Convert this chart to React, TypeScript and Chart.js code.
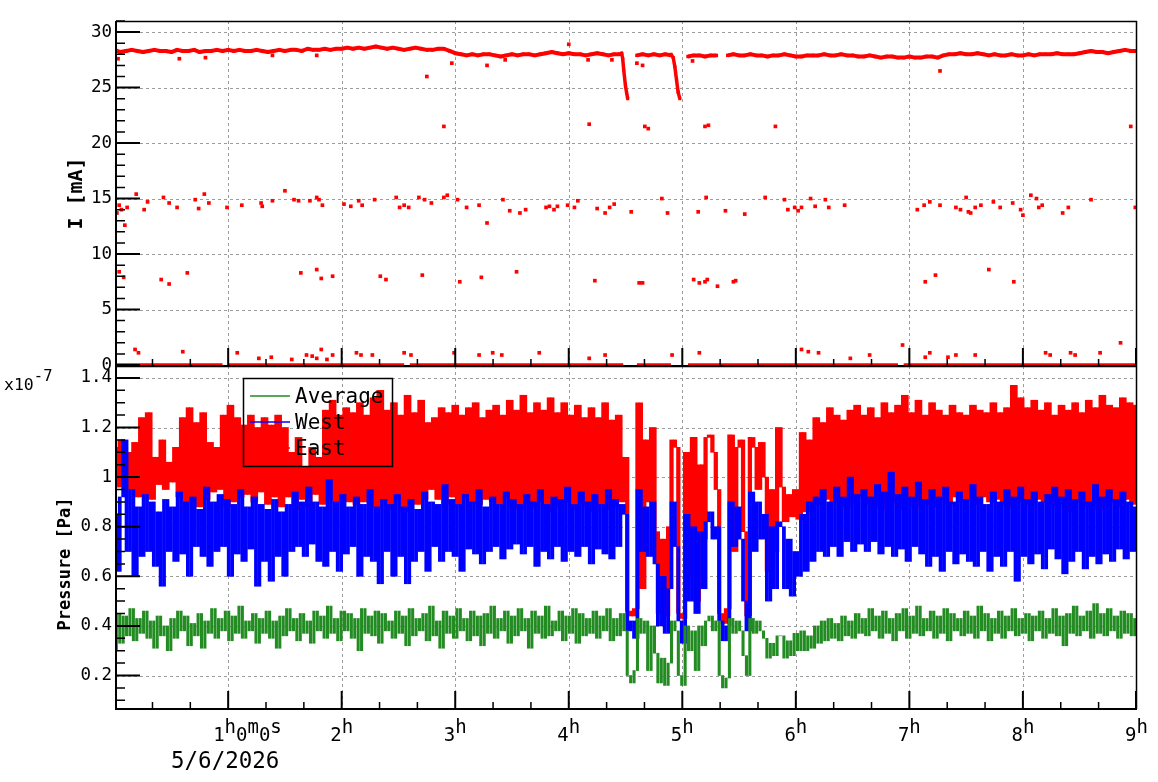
import React, { useEffect, useRef } from 'react';
import { Chart, registerables } from 'chart.js';

Chart.register(...registerables);

const W = 1158;
const H = 782;
const MONO = "'DejaVu Sans Mono', 'Liberation Mono', monospace";
const RED = '#ff0000';
const BLUE = '#0000ff';
const GREEN = '#228b22';

// ---------- axis labels ----------
const hourTicks = [1, 2, 3, 4, 5, 6, 7, 8, 9];
const hourLabels = ['1^{h}0^{m}0^{s}', '2^{h}', '3^{h}', '4^{h}', '5^{h}', '6^{h}', '7^{h}', '8^{h}', '9^{h}'];
const dateLabel = '5/6/2026';
const currentTitle = 'I [mA]';
const pressureTitle = 'Pressure [Pa]';
const pressureExponent = 'x10^{-7}';
const seriesNames = ['Average', 'West', 'East'];

// ---------- beam current (mA), hours ----------
const bandStep = 0.05;
const bandCurrent: (number | null)[] = [
  28.4, 28.2, 28.3, 28.4, 28.3, 28.2, 28.3, 28.4, 28.3, 28.3, 28.2, 28.4, 28.3, 28.3, 28.4, 28.2, 28.3, 28.3, 28.4, 28.3, 28.4,
  28.3, 28.4, 28.3, 28.3, 28.4, 28.3, 28.2, 28.3, 28.4, 28.3, 28.4, 28.4, 28.3, 28.5, 28.4, 28.4, 28.5, 28.4, 28.5, 28.5,
  28.6, 28.5, 28.6, 28.5, 28.6, 28.7, 28.6, 28.5, 28.6, 28.5, 28.4, 28.5, 28.6, 28.5, 28.4, 28.4, 28.5, 28.5,
  28.3, 28.1, 28.0, 27.9, 28.0, 27.9, 28.0, 28.0, 27.9, 27.8, 27.9, 28.0, 27.9, 28.0, 28.0, 27.9, 28.0, 28.1, 28.2, 28.1,
  28.0, 28.1, 28.0, 28.0, 27.9, 28.0, 28.1, 28.0, 27.9, 28.0, 28.0,
  null, null,
  27.9, 28.0, 27.9, 28.0, 27.9, 28.0, 27.9,
  null, null,
  27.8, 27.9, 27.9, 27.8, 27.9, 27.9,
  null,
  27.9, 28.0, 27.9, 27.9, 28.0, 27.9, 27.9, 27.8, 27.9, 27.9, 28.0, 27.9, 27.8, 27.8, 27.9, 27.9, 27.9, 28.0, 27.9, 27.9, 28.0, 27.9, 27.9,
  27.8, 27.8, 27.9, 27.8, 27.7, 27.8, 27.8, 27.7, 27.7, 27.8, 27.7, 27.7, 27.8, 27.8, 27.7, 27.9,
  28.0, 28.0, 28.1, 28.0, 28.0, 28.1, 28.0, 27.9, 28.0, 27.9, 27.9, 28.0, 27.9, 27.9,
  28.0, 27.9, 28.0, 28.0, 28.0, 28.1, 28.0, 28.0, 28.0, 28.1, 28.2, 28.3, 28.2, 28.2, 28.1, 28.2, 28.3, 28.4, 28.3, 28.3,
];
const drop1Times = [4.45, 4.466, 4.475, 4.484, 4.5, 4.519];
const drop1Current = [28.0, 28.1, 27.6, 26.6, 25.1, 24.0];
const drop2Times = [4.9, 4.92, 4.934, 4.949, 4.963, 4.978];
const drop2Current = [28.0, 27.7, 26.9, 25.7, 24.6, 24.0];
const zeroSegments: [number, number][] = [
  [0, 0.95], [1.0, 2.55], [2.6, 4.48], [4.6, 4.9], [5.05, 6.9], [6.95, 9.0],
];
const outliersNear15: [number, number][] = [
  [0.02, 13.7], [0.04, 14.4], [0.06, 14.0], [0.09, 12.6], [0.11, 14.2], [0.19, 15.4], [0.26, 14.0], [0.29, 14.7],
  [0.43, 15.1], [0.48, 14.6], [0.55, 14.2], [0.71, 14.9], [0.74, 14.1], [0.79, 15.4], [0.83, 14.6], [0.99, 14.2],
  [1.12, 14.4], [1.29, 14.6], [1.30, 14.3], [1.39, 14.8], [1.50, 15.7], [1.58, 14.9], [1.62, 14.8], [1.72, 14.8],
  [1.78, 15.1], [1.80, 14.9], [1.83, 14.4], [2.02, 14.5], [2.08, 14.3], [2.15, 14.8], [2.18, 14.4], [2.29, 14.9],
  [2.48, 15.1], [2.51, 14.2], [2.55, 14.4], [2.59, 14.2], [2.68, 15.1], [2.73, 14.9], [2.79, 14.6], [2.90, 15.1],
  [2.93, 15.3], [3.02, 14.9], [3.10, 14.2], [3.21, 14.4], [3.28, 12.8], [3.42, 14.9], [3.48, 13.9], [3.57, 13.7],
  [3.62, 14.0], [3.80, 14.2], [3.83, 14.3], [3.87, 14.0], [3.90, 14.3], [3.99, 14.4], [4.05, 14.2], [4.08, 14.8],
  [4.25, 14.1], [4.32, 13.7], [4.36, 14.2], [4.40, 14.5], [4.55, 13.8], [4.82, 15.0], [4.87, 13.7], [5.14, 13.8],
  [5.21, 15.1], [5.38, 13.9], [5.55, 13.6], [5.73, 15.1], [5.90, 14.9], [5.93, 14.0], [5.99, 14.2], [6.02, 13.9],
  [6.05, 14.2], [6.13, 15.0], [6.17, 14.3], [6.26, 14.9], [6.29, 14.2], [6.43, 14.4], [7.07, 14.0], [7.13, 14.4],
  [7.18, 14.7], [7.27, 14.4], [7.41, 14.2], [7.45, 14.0], [7.50, 15.1], [7.52, 13.8], [7.54, 13.7], [7.58, 14.2],
  [7.63, 14.4], [7.74, 14.7], [7.80, 14.2], [7.91, 14.6], [7.98, 14.0], [8.00, 13.5], [8.07, 15.3], [8.12, 15.0],
  [8.14, 14.2], [8.17, 14.4], [8.35, 13.7], [8.40, 14.2], [8.60, 14.9], [8.99, 14.2],
];
const outliersNear8: [number, number][] = [
  [0.04, 8.4], [0.08, 7.9], [0.41, 7.7], [0.48, 7.3], [0.64, 8.3], [1.64, 8.3], [1.78, 8.6], [1.82, 7.8],
  [1.92, 8.0], [2.34, 8.0], [2.39, 7.7], [2.71, 8.1], [3.04, 7.5], [3.23, 7.9], [3.54, 8.4], [4.23, 7.6],
  [4.62, 7.4], [4.65, 7.4], [5.10, 7.7], [5.15, 7.4], [5.20, 7.5], [5.22, 7.7], [5.31, 7.1], [5.45, 7.5],
  [5.47, 7.6], [7.14, 7.5], [7.23, 8.1], [7.70, 8.6], [7.92, 7.5],
];
const outliersNear21: [number, number][] = [
  [2.90, 21.5], [4.18, 21.7], [4.67, 21.5], [4.70, 21.3], [5.20, 21.5], [5.23, 21.6], [5.82, 21.5], [8.95, 21.5],
];
const outliersNear1: [number, number][] = [
  [0.18, 1.4], [0.21, 1.1], [0.60, 1.2], [1.08, 1.1], [1.27, 0.6], [1.38, 0.7], [1.56, 0.5], [1.69, 0.9],
  [1.74, 0.8], [1.78, 0.6], [1.82, 1.4], [1.87, 0.5], [1.92, 0.9], [2.13, 1.1], [2.17, 0.9], [2.27, 0.9],
  [2.55, 1.1], [2.61, 0.9], [2.99, 1.1], [3.21, 0.9], [3.33, 1.1], [3.41, 0.9], [3.74, 1.1], [4.18, 0.6],
  [4.32, 0.9], [4.91, 0.9], [5.15, 1.1], [6.05, 1.4], [6.11, 1.2], [6.20, 1.1], [6.48, 0.6], [6.65, 0.9],
  [6.94, 1.8], [7.14, 0.7], [7.18, 1.1], [7.34, 0.7], [7.41, 0.9], [7.58, 0.9], [8.20, 1.1], [8.24, 0.9],
  [8.42, 1.1], [8.46, 0.9], [8.68, 1.1], [8.86, 2.0],
];
const outliersNearBand: [number, number][] = [
  [0.03, 27.6], [0.57, 27.6], [0.80, 27.7], [1.39, 27.9], [1.78, 27.9], [2.75, 26.0], [2.97, 27.2], [3.28, 27.0],
  [3.44, 27.5], [4.00, 28.9], [4.17, 27.5], [4.38, 27.5], [4.60, 27.2], [4.65, 27.0], [5.09, 27.4], [7.27, 26.5],
];

// ---------- pressure (x1e-7 Pa), every 0.03 h ----------
const pressureStep = 0.03;
const eastPressure = [
  1.12, 0.96, 1.15, 0.98, 1.10, 0.95, 1.14, 0.92, 1.24, 0.93,
  1.26, 0.91, 1.08, 0.97, 1.15, 0.95, 1.06, 0.98, 1.12, 0.92,
  1.24, 0.90, 1.28, 0.92, 1.22, 0.88, 1.26, 0.91, 1.14, 0.94,
  1.12, 0.95, 1.25, 0.88, 1.29, 0.90, 1.24, 0.92, 1.21, 0.93,
  1.25, 0.90, 1.20, 0.94, 1.24, 0.89, 1.21, 0.92, 1.25, 0.88,
  1.20, 0.92, 1.10, 0.87, 1.16, 0.91, 1.04, 0.88, 1.12, 0.93,
  1.08, 0.89, 1.27, 0.91, 1.31, 0.90, 1.25, 0.92, 1.28, 0.90,
  1.26, 0.89, 1.30, 0.90, 1.25, 0.92, 1.32, 0.88, 1.35, 0.90,
  1.27, 0.87, 1.30, 0.91, 1.25, 0.86, 1.33, 0.90, 1.26, 0.89,
  1.31, 0.91, 1.22, 0.95, 1.24, 0.91, 1.28, 0.89, 1.26, 0.92,
  1.29, 0.89, 1.25, 0.92, 1.28, 0.90, 1.30, 0.89, 1.24, 0.91,
  1.27, 0.90, 1.29, 0.89, 1.25, 0.92, 1.31, 0.88, 1.27, 0.87,
  1.33, 0.89, 1.26, 0.88, 1.30, 0.90, 1.27, 0.86, 1.32, 0.89,
  1.26, 0.88, 1.30, 0.90, 1.25, 0.87, 1.29, 0.89, 1.24, 0.88,
  1.28, 0.86, 1.24, 0.89, 1.30, 0.87, 1.23, 0.88, 1.25, 0.90,
  1.08, 0.46, 0.44, 0.47, 1.30, 0.55, 1.15, 0.90, 1.20, 0.78,
  0.45, 0.75, 0.44, 0.80, 1.15, 1.12, 0.45, 0.43, 1.10, 0.60,
  1.16, 0.50, 1.05, 0.75, 1.16, 1.17, 1.10, 0.95, 0.45, 0.41,
  0.47, 1.17, 0.70, 1.12, 1.15, 0.78, 0.44, 1.16, 1.12, 0.95,
  1.14, 1.00, 0.62, 0.95, 0.70, 1.20, 0.96, 0.82, 0.93, 0.84,
  0.95, 0.83, 1.18, 0.86, 1.15, 0.90, 1.24, 0.89, 1.22, 0.91,
  1.28, 0.90, 1.25, 0.91, 1.23, 0.88, 1.27, 0.90, 1.29, 0.92,
  1.25, 0.89, 1.28, 0.88, 1.24, 0.91, 1.30, 0.87, 1.26, 0.90,
  1.29, 0.87, 1.33, 0.90, 1.26, 0.88, 1.31, 0.91, 1.25, 0.89,
  1.30, 0.88, 1.27, 0.91, 1.25, 0.89, 1.29, 0.92, 1.26, 0.90,
  1.25, 0.91, 1.29, 0.89, 1.27, 0.92, 1.26, 0.90, 1.30, 0.91,
  1.26, 0.89, 1.28, 0.88, 1.37, 0.91, 1.32, 0.90, 1.28, 0.89,
  1.31, 0.91, 1.27, 0.90, 1.30, 0.88, 1.25, 0.91, 1.29, 0.89,
  1.27, 0.86, 1.30, 0.90, 1.26, 0.88, 1.31, 0.89, 1.28, 0.87,
  1.33, 0.89, 1.29, 0.90, 1.28, 0.88, 1.32, 0.91, 1.30, 0.89,
  1.29,
];
const westPressure = [
  0.85, 0.62, 0.92, 1.15, 0.70, 0.95, 0.60, 0.88, 0.68, 0.93,
  0.70, 0.90, 0.64, 0.86, 0.56, 0.91, 0.70, 0.88, 0.66, 0.94,
  0.69, 0.90, 0.60, 0.92, 0.72, 0.87, 0.68, 0.96, 0.64, 0.90,
  0.70, 0.93, 0.72, 0.91, 0.60, 0.89, 0.69, 0.95, 0.66, 0.88,
  0.71, 0.92, 0.56, 0.89, 0.66, 0.87, 0.58, 0.91, 0.68, 0.86,
  0.60, 0.89, 0.70, 0.94, 0.72, 0.90, 0.68, 0.96, 0.73, 0.90,
  0.66, 0.88, 0.64, 0.99, 0.70, 0.90, 0.62, 0.93, 0.69, 0.88,
  0.72, 0.92, 0.60, 0.89, 0.68, 0.95, 0.66, 0.88, 0.57, 0.91,
  0.70, 0.89, 0.60, 0.93, 0.68, 0.88, 0.57, 0.91, 0.66, 0.87,
  0.70, 0.94, 0.62, 0.90, 0.72, 0.89, 0.66, 0.97, 0.70, 0.91,
  0.68, 0.89, 0.62, 0.93, 0.71, 0.90, 0.69, 0.95, 0.65, 0.88,
  0.70, 0.92, 0.72, 0.89, 0.67, 0.94, 0.71, 0.91, 0.73, 0.89,
  0.69, 0.93, 0.72, 0.90, 0.64, 0.95, 0.70, 0.89, 0.67, 0.92,
  0.72, 0.91, 0.66, 0.96, 0.70, 0.89, 0.68, 0.94, 0.72, 0.90,
  0.65, 0.93, 0.71, 0.89, 0.69, 0.95, 0.67, 0.91, 0.72, 0.89,
  0.85, 0.38, 0.42, 0.35, 0.95, 0.70, 0.88, 0.68, 0.90, 0.65,
  0.40, 0.60, 0.37, 0.55, 0.90, 0.72, 0.42, 0.33, 0.85, 0.50,
  0.80, 0.45, 0.78, 0.55, 0.82, 0.86, 0.75, 0.80, 0.42, 0.34,
  0.40, 0.90, 0.72, 0.88, 0.75, 0.50, 0.38, 0.94, 0.70, 0.90,
  0.75, 0.85, 0.50, 0.80, 0.55, 0.82, 0.80, 0.55, 0.75, 0.52,
  0.70, 0.60, 0.85, 0.62, 0.90, 0.66, 0.92, 0.70, 0.95, 0.68,
  0.90, 0.72, 0.96, 0.68, 0.92, 0.74, 1.00, 0.70, 0.93, 0.73,
  0.95, 0.70, 0.92, 0.74, 0.97, 0.69, 0.94, 0.72, 1.02, 0.68,
  0.93, 0.71, 0.96, 0.66, 0.92, 0.72, 0.98, 0.69, 0.91, 0.64,
  0.95, 0.68, 0.92, 0.62, 0.96, 0.70, 0.90, 0.65, 0.94, 0.69,
  0.91, 0.66, 0.97, 0.64, 0.92, 0.70, 0.89, 0.62, 0.94, 0.68,
  0.90, 0.64, 0.95, 0.70, 0.92, 0.58, 0.96, 0.68, 0.91, 0.65,
  0.94, 0.69, 0.90, 0.63, 0.93, 0.71, 0.96, 0.67, 0.92, 0.61,
  0.95, 0.66, 0.91, 0.70, 0.94, 0.63, 0.90, 0.68, 0.97, 0.65,
  0.92, 0.69, 0.95, 0.66, 0.91, 0.71, 0.94, 0.67, 0.90, 0.70,
  0.88,
];
const averagePressure = [
  0.30, 0.45, 0.33, 0.44, 0.36, 0.47, 0.34, 0.43, 0.37, 0.46,
  0.35, 0.42, 0.31, 0.44, 0.36, 0.40, 0.30, 0.43, 0.35, 0.46,
  0.38, 0.44, 0.32, 0.41, 0.36, 0.45, 0.31, 0.42, 0.37, 0.47,
  0.35, 0.43, 0.38, 0.46, 0.34, 0.44, 0.37, 0.48, 0.35, 0.42,
  0.38, 0.45, 0.33, 0.43, 0.37, 0.46, 0.35, 0.42, 0.31, 0.44,
  0.36, 0.47, 0.38, 0.43, 0.34, 0.45, 0.37, 0.42, 0.33, 0.46,
  0.38, 0.44, 0.35, 0.48, 0.37, 0.43, 0.34, 0.46, 0.38, 0.45,
  0.35, 0.43, 0.30, 0.47, 0.37, 0.44, 0.36, 0.46, 0.33, 0.45,
  0.38, 0.42, 0.35, 0.46, 0.37, 0.44, 0.32, 0.47, 0.36, 0.43,
  0.38, 0.45, 0.34, 0.48, 0.36, 0.42, 0.31, 0.46, 0.37, 0.44,
  0.35, 0.47, 0.38, 0.43, 0.34, 0.46, 0.36, 0.44, 0.32, 0.45,
  0.37, 0.48, 0.35, 0.43, 0.38, 0.46, 0.33, 0.44, 0.36, 0.47,
  0.38, 0.43, 0.31, 0.46, 0.37, 0.44, 0.35, 0.48, 0.36, 0.42,
  0.38, 0.46, 0.34, 0.44, 0.37, 0.47, 0.33, 0.45, 0.36, 0.43,
  0.37, 0.46, 0.35, 0.44, 0.38, 0.47, 0.34, 0.43, 0.36, 0.45,
  0.38, 0.20, 0.17, 0.22, 0.43, 0.37, 0.42, 0.22, 0.40, 0.29,
  0.17, 0.27, 0.16, 0.25, 0.42, 0.38, 0.20, 0.16, 0.40, 0.30,
  0.38, 0.22, 0.40, 0.32, 0.42, 0.44, 0.38, 0.42, 0.20, 0.15,
  0.19, 0.43, 0.37, 0.42, 0.38, 0.28, 0.20, 0.43, 0.37, 0.42,
  0.38, 0.35, 0.27, 0.33, 0.28, 0.36, 0.36, 0.27, 0.34, 0.28,
  0.37, 0.30, 0.38, 0.30, 0.36, 0.31, 0.40, 0.33, 0.42, 0.34,
  0.43, 0.35, 0.41, 0.34, 0.44, 0.36, 0.42, 0.35, 0.45, 0.37,
  0.43, 0.36, 0.47, 0.38, 0.44, 0.35, 0.46, 0.37, 0.43, 0.34,
  0.45, 0.38, 0.47, 0.35, 0.44, 0.37, 0.48, 0.36, 0.43, 0.38,
  0.46, 0.35, 0.44, 0.37, 0.47, 0.34, 0.45, 0.38, 0.43, 0.36,
  0.46, 0.37, 0.44, 0.35, 0.48, 0.38, 0.45, 0.34, 0.43, 0.37,
  0.46, 0.35, 0.44, 0.38, 0.47, 0.36, 0.43, 0.37, 0.45, 0.34,
  0.44, 0.38, 0.46, 0.35, 0.43, 0.37, 0.47, 0.36, 0.44, 0.32,
  0.45, 0.37, 0.48, 0.36, 0.44, 0.38, 0.46, 0.35, 0.49, 0.37,
  0.45, 0.36, 0.47, 0.38, 0.44, 0.35, 0.46, 0.37, 0.45, 0.36,
  0.43,
];

// ---------- helpers ----------
type Part = { t: string; sup: boolean };
function parseSup(label: string): Part[] {
  const parts: Part[] = [];
  const re = /\^\{([^}]*)\}/g;
  let last = 0;
  let m: RegExpExecArray | null;
  while ((m = re.exec(label))) {
    if (m.index > last) parts.push({ t: label.slice(last, m.index), sup: false });
    parts.push({ t: m[1], sup: true });
    last = re.lastIndex;
  }
  if (last < label.length) parts.push({ t: label.slice(last), sup: false });
  return parts;
}
function richWidth(ctx: CanvasRenderingContext2D, parts: Part[], size: number, supSize: number) {
  let w = 0;
  for (const p of parts) {
    ctx.font = `${p.sup ? supSize : size}px ${MONO}`;
    w += ctx.measureText(p.t).width;
  }
  return w;
}
function drawRich(ctx: CanvasRenderingContext2D, parts: Part[], x: number, base: number, size: number, supSize: number, rise: number) {
  let cx = x;
  ctx.textAlign = 'left';
  ctx.textBaseline = 'alphabetic';
  for (const p of parts) {
    ctx.font = `${p.sup ? supSize : size}px ${MONO}`;
    ctx.fillText(p.t, cx, p.sup ? base - rise : base);
    cx += ctx.measureText(p.t).width;
  }
}

function decor(pad: 'top' | 'bottom') {
  return {
    id: 'decor_' + pad,
    beforeDatasetsDraw(chart: any) {
      const { ctx, chartArea: a, scales } = chart;
      const xs = scales.x;
      const ys = scales.y;
      ctx.save();
      ctx.strokeStyle = '#9c9c9c';
      ctx.lineWidth = 1;
      ctx.setLineDash([3, 3]);
      ctx.beginPath();
      for (const h of hourTicks) {
        const px = Math.round(xs.getPixelForValue(h)) + 0.5;
        if (px > a.right - 3) continue;
        ctx.moveTo(px, a.top);
        ctx.lineTo(px, a.bottom);
      }
      for (const t of ys.ticks) {
        const py = Math.round(ys.getPixelForValue(t.value)) + 0.5;
        if (py > a.bottom - 3) continue;
        ctx.moveTo(a.left, py);
        ctx.lineTo(a.right, py);
      }
      ctx.stroke();
      ctx.restore();
    },
    afterDatasetsDraw(chart: any) {
      const { ctx, chartArea: a, scales } = chart;
      const xs = scales.x;
      const ys = scales.y;
      ctx.save();
      ctx.setLineDash([]);
      ctx.strokeStyle = '#000';
      ctx.fillStyle = '#000';
      ctx.lineWidth = 1.5;
      ctx.beginPath();
      ctx.moveTo(a.left, a.top + 0.5);
      ctx.lineTo(a.right, a.top + 0.5);
      ctx.moveTo(a.right - 0.5, a.top);
      ctx.lineTo(a.right - 0.5, a.bottom);
      ctx.stroke();
      ctx.lineWidth = 2;
      ctx.beginPath();
      ctx.moveTo(a.left, a.top);
      ctx.lineTo(a.left, a.bottom + 1);
      ctx.moveTo(a.left - 1, a.bottom);
      ctx.lineTo(a.right, a.bottom);
      ctx.stroke();
      ctx.beginPath();
      for (const t of ys.ticks) {
        const py = ys.getPixelForValue(t.value);
        ctx.moveTo(a.left, py);
        ctx.lineTo(a.left + 24, py);
      }
      ctx.stroke();
      ctx.lineWidth = 1.5;
      ctx.beginPath();
      if (pad === 'top') {
        for (let v = 1; v <= 31; v++) {
          if (v % 5 === 0) continue;
          const py = ys.getPixelForValue(v);
          ctx.moveTo(a.left, py);
          ctx.lineTo(a.left + 9, py);
        }
      } else {
        for (let k = 2; k <= 28; k++) {
          if (k % 4 === 0) continue;
          const py = ys.getPixelForValue(k * 0.05);
          ctx.moveTo(a.left, py);
          ctx.lineTo(a.left + 9, py);
        }
      }
      for (let k = 1; k <= 27; k++) {
        if (k % 3 === 0) continue;
        const px = xs.getPixelForValue(k / 3);
        ctx.moveTo(px, a.bottom);
        ctx.lineTo(px, a.bottom - 7);
      }
      ctx.stroke();
      ctx.lineWidth = 2;
      ctx.beginPath();
      for (const h of hourTicks) {
        const px = Math.min(xs.getPixelForValue(h), a.right - 1);
        ctx.moveTo(px, a.bottom);
        ctx.lineTo(px, a.bottom - 18);
      }
      ctx.stroke();

      const title = pad === 'top' ? currentTitle : pressureTitle;
      ctx.save();
      if (pad === 'top') {
        ctx.translate(77, (a.top + a.bottom) / 2);
        ctx.font = `bold 20px ${MONO}`;
      } else {
        ctx.translate(66, 564);
        ctx.font = `bold 17px ${MONO}`;
      }
      ctx.rotate(-Math.PI / 2);
      ctx.textAlign = 'center';
      ctx.textBaseline = 'middle';
      ctx.fillText(title, 0, 0);
      ctx.restore();

      if (pad === 'bottom') {
        hourTicks.forEach((h, i) => {
          const parts = parseSup(hourLabels[i]);
          const px = xs.getPixelForValue(h);
          const w = richWidth(ctx, parts, 19, 19);
          const x0 = i === 0 ? px - 15 : px - w / 2;
          drawRich(ctx, parts, x0, a.bottom + 32, 19, 19, 8);
        });
        ctx.font = `22.5px ${MONO}`;
        ctx.textAlign = 'left';
        ctx.fillText(dateLabel, 171, a.bottom + 59);
        drawRich(ctx, parseSup(pressureExponent), 4, 390, 16.5, 15.5, 9);

        ctx.lineWidth = 1.5;
        ctx.strokeStyle = '#000';
        ctx.strokeRect(243.5, 378.5, 149, 88);
        const ds = chart.data.datasets;
        const rowsY = [396, 422, 448];
        seriesNames.forEach((name, i) => {
          const d = ds.find((x: any) => x.label === name);
          ctx.strokeStyle = d ? d.borderColor : '#000';
          ctx.lineWidth = 1.5;
          ctx.beginPath();
          ctx.moveTo(250, rowsY[i]);
          ctx.lineTo(290, rowsY[i]);
          ctx.stroke();
          ctx.fillStyle = '#000';
          ctx.font = `21px ${MONO}`;
          ctx.textAlign = 'left';
          ctx.textBaseline = 'alphabetic';
          ctx.fillText(name, 295, rowsY[i] + 7);
        });
      }
      ctx.restore();
    },
  };
}

const pairs = (list: [number, number][]) => list.map(([x, y]) => ({ x, y }));

// each bar covers the vertical extent of the trace between two consecutive samples
function traceBars(arr: number[]) {
  const out: { x: number; y: [number, number] }[] = [];
  for (let i = 0; i < arr.length - 1; i++) {
    const a = arr[i];
    const b = arr[i + 1];
    out.push({ x: +((i + 0.5) * pressureStep).toFixed(4), y: [Math.min(a, b), Math.max(a, b)] });
  }
  return out;
}

export default function App() {
  const topRef = useRef<HTMLCanvasElement>(null);
  const botRef = useRef<HTMLCanvasElement>(null);

  useEffect(() => {
    const xMin = 0.012;
    const xMax = 9.005;
    const axisFont = { family: MONO, size: 17.5 };

    const bandData = bandCurrent.map((v, i) => ({ x: +(i * bandStep).toFixed(3), y: v }));
    const zeroData: any[] = [];
    zeroSegments.forEach(([s, e]) => {
      zeroData.push({ x: s, y: 0 }, { x: e, y: 0 }, { x: e, y: null });
    });
    const outliers = [
      ...pairs(outliersNear15),
      ...pairs(outliersNear8),
      ...pairs(outliersNear21),
      ...pairs(outliersNear1),
      ...pairs(outliersNearBand),
    ];
    const lineDs = (data: any[], width: number) => ({
      data,
      showLine: true,
      borderColor: RED,
      backgroundColor: RED,
      borderWidth: width,
      pointRadius: 0,
      spanGaps: false,
      borderJoinStyle: 'round' as const,
    });

    const top = new Chart(topRef.current!, {
      type: 'scatter',
      data: {
        datasets: [
          { ...lineDs(bandData, 4), pointRadius: 2.4, pointStyle: 'rect', pointBorderWidth: 0, label: 'band' },
          { ...lineDs(drop1Times.map((x, i) => ({ x, y: drop1Current[i] })), 3.5), pointRadius: 2.2, pointStyle: 'rect', pointBorderWidth: 0, label: 'drop1' },
          { ...lineDs(drop2Times.map((x, i) => ({ x, y: drop2Current[i] })), 3.5), pointRadius: 2.2, pointStyle: 'rect', pointBorderWidth: 0, label: 'drop2' },
          { ...lineDs(zeroData, 3.5), label: 'zero' },
          {
            label: 'outliers',
            data: outliers,
            showLine: false,
            pointStyle: 'rect',
            pointRadius: 2.6,
            pointBorderWidth: 0,
            backgroundColor: RED,
            borderColor: RED,
          },
        ],
      },
      options: {
        animation: false,
        responsive: false,
        devicePixelRatio: 1,
        events: [],
        layout: { padding: { top: 21, right: 21, bottom: H - 366, left: 0 } },
        plugins: { legend: { display: false }, tooltip: { enabled: false } },
        scales: {
          x: { type: 'linear', min: xMin, max: xMax, display: false },
          y: {
            type: 'linear',
            min: -0.09,
            max: 31,
            afterFit: (s: any) => { s.width = 116; },
            grid: { display: false, drawTicks: false },
            border: { display: false },
            ticks: { stepSize: 5, includeBounds: false, font: axisFont, color: '#000', padding: 4 },
          },
        },
      } as any,
      plugins: [decor('top')],
    });

    const pDs = (label: string, arr: number[], color: string, thickness: number) => ({
      type: 'bar' as const,
      label,
      data: traceBars(arr),
      borderColor: color,
      backgroundColor: color,
      borderWidth: 0,
      barThickness: thickness,
      grouped: false,
    });

    const bot = new Chart(botRef.current!, {
      type: 'bar',
      data: {
        datasets: [
          pDs('Average', averagePressure, GREEN, 2.4),
          pDs('West', westPressure, BLUE, 3.1),
          pDs('East', eastPressure, RED, 3.6),
        ] as any,
      },
      options: {
        animation: false,
        responsive: false,
        devicePixelRatio: 1,
        events: [],
        layout: { padding: { top: 366, right: 21, bottom: H - 709, left: 0 } },
        plugins: { legend: { display: false }, tooltip: { enabled: false } },
        scales: {
          x: { type: 'linear', min: xMin, max: xMax, offset: false, display: false },
          y: {
            type: 'linear',
            min: 0.065,
            max: 1.448,
            afterFit: (s: any) => { s.width = 116; },
            grid: { display: false, drawTicks: false },
            border: { display: false },
            ticks: {
              stepSize: 0.2,
              includeBounds: false,
              font: axisFont,
              color: '#000',
              padding: 4,
              callback: (v: any) => String(+Number(v).toFixed(1)),
            },
          },
        },
      } as any,
      plugins: [decor('bottom')],
    });

    return () => {
      top.destroy();
      bot.destroy();
    };
  }, []);

  return (
    <div style={{ position: 'fixed', left: 0, top: 0, width: W, height: H, background: '#fff' }}>
      <canvas ref={topRef} width={W} height={H} style={{ position: 'absolute', left: 0, top: 0 }} />
      <canvas ref={botRef} width={W} height={H} style={{ position: 'absolute', left: 0, top: 0 }} />
    </div>
  );
}
